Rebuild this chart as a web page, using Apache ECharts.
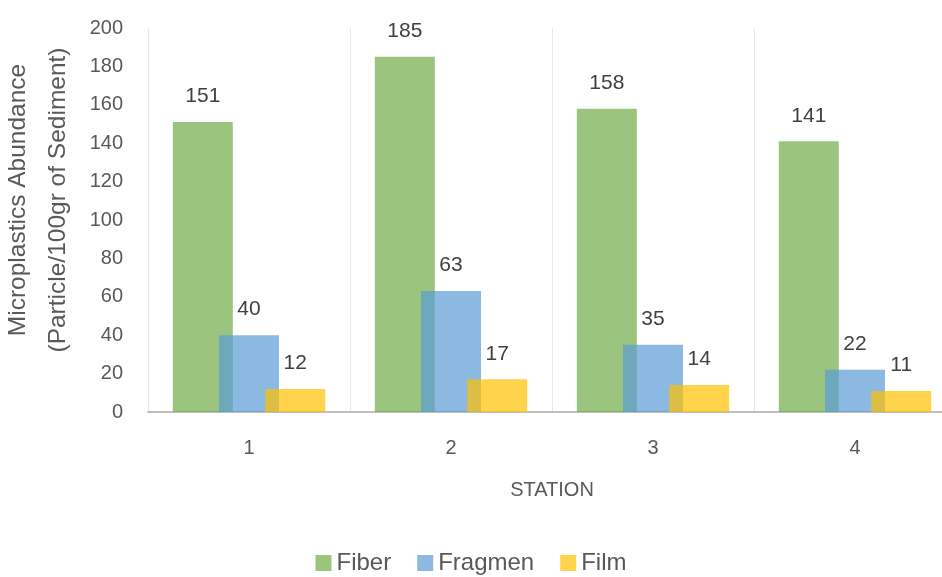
<!DOCTYPE html>
<html>
<head>
<meta charset="utf-8">
<script src="https://cdn.jsdelivr.net/npm/echarts@6/dist/echarts.min.js"></script>
<style>
html,body{margin:0;padding:0;background:#fff;}
#chart{width:942px;height:577px;}
</style>
</head>
<body>
<div id="chart"></div>
<script>
const categories = ['1', '2', '3', '4'];
const fiber = [151, 185, 158, 141];
const fragmen = [40, 63, 35, 22];
const film = [12, 17, 14, 11];
const yTicks = { min: 0, max: 200, interval: 20 };

const FONT = 'Liberation Sans';
const chart = echarts.init(document.getElementById('chart'));

function bar(name, data, color) {
  return {
    name: name,
    type: 'bar',
    data: data,
    barWidth: 60,
    barGap: '-23%',
    itemStyle: { color: color },
    label: {
      show: true,
      position: 'top',
      distance: 15,
      color: '#404040',
      fontFamily: FONT,
      fontSize: 21
    }
  };
}

chart.setOption({
  animation: false,
  textStyle: { fontFamily: FONT },
  grid: { left: 148, right: -14, top: 28, bottom: 165, containLabel: false, outerBoundsMode: 'none' },
  legend: {
    top: 546,
    left: 'center',
    itemWidth: 16,
    itemHeight: 16,
    itemGap: 26,
    icon: 'rect',
    textStyle: { color: '#595959', fontSize: 24, fontFamily: FONT },
    data: ['Fiber', 'Fragmen', 'Film']
  },
  xAxis: {
    type: 'category',
    data: categories,
    name: 'STATION',
    nameLocation: 'middle',
    nameGap: 68,
    nameTextStyle: { color: '#595959', fontSize: 20, fontFamily: FONT },
    axisLine: { show: true, lineStyle: { color: '#bfbfbf', width: 2 } },
    axisTick: { show: false },
    axisLabel: { color: '#595959', fontSize: 20, margin: 26, fontFamily: FONT },
    splitLine: { show: true, lineStyle: { color: '#e6e6e6', width: 1 } }
  },
  yAxis: {
    type: 'value',
    min: yTicks.min,
    max: yTicks.max,
    interval: yTicks.interval,
    name: 'Microplastics Abundance\n(Particle/100gr of Sediment)',
    nameLocation: 'middle',
    nameGap: 44,
    nameTextStyle: { color: '#595959', fontSize: 24.5, lineHeight: 40, fontFamily: FONT, padding: [0, 0, 0, 40] },
    axisLine: { show: false },
    axisTick: { show: false },
    axisLabel: { color: '#595959', fontSize: 20, margin: 25, fontFamily: FONT },
    splitLine: { show: false }
  },
  series: [
    bar('Fiber', fiber, 'rgba(112,173,71,0.7)'),
    bar('Fragmen', fragmen, 'rgba(91,155,213,0.7)'),
    bar('Film', film, 'rgba(255,192,0,0.7)')
  ]
});
</script>
</body>
</html>
